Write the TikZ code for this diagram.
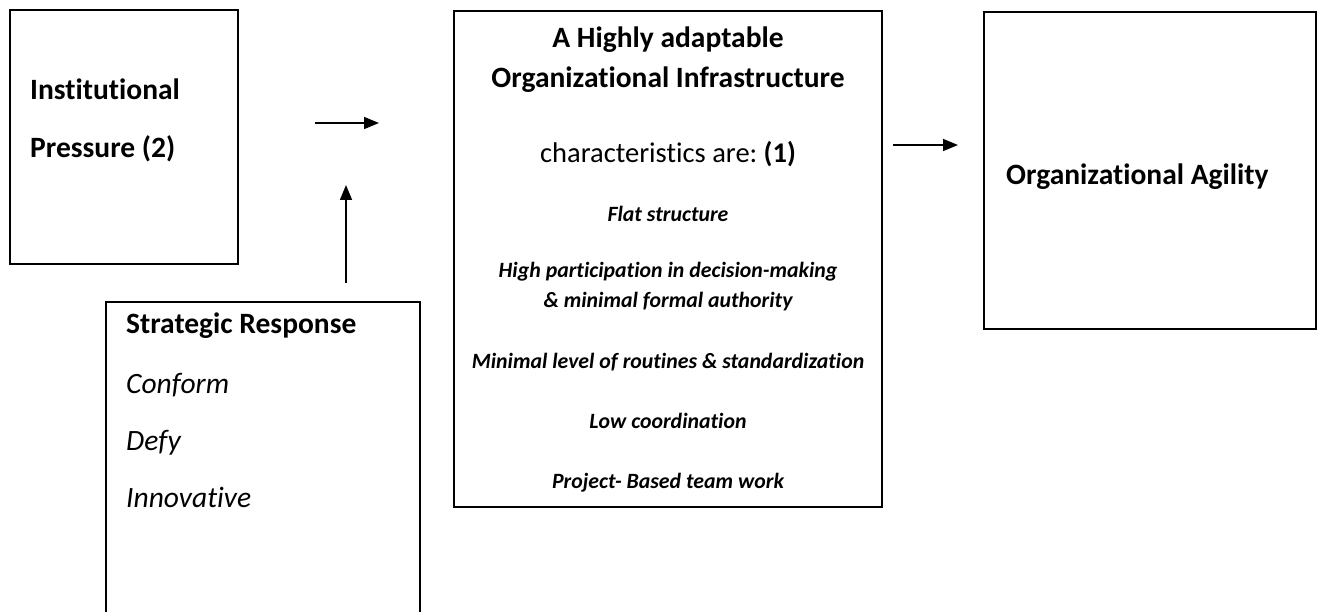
\documentclass[tikz,border=0pt]{standalone}
\usepackage{fontspec}
\setmainfont[Ligatures={NoCommon}]{Carlito}
\usetikzlibrary{arrows.meta}
\frenchspacing
\begin{document}
\begin{tikzpicture}[x=1pt,y=-1pt,
  box/.style={draw,line width=1.6pt,inner sep=0pt},
  head/.style={font=\fontsize{29.5}{34}\selectfont\bfseries,anchor=base west,inner sep=0pt},
  centred/.style={anchor=base,inner sep=0pt},
  item/.style={font=\fontsize{21.8}{25}\selectfont\bfseries\itshape,anchor=base,inner sep=0pt},
  option/.style={font=\fontsize{29.5}{34}\selectfont\itshape,anchor=base west,inner sep=0pt},
  flow/.style={line width=1.5pt,-{Triangle[length=15pt,width=12pt]}}]
\useasboundingbox (0,0) rectangle (1322,612);
\clip (0,0) rectangle (1322,612);

% boxes
\node[box,minimum width=228pt,minimum height=254pt] (inst) at (124,137) {};
\node[box,minimum width=314pt,minimum height=330pt] (resp) at (263,467) {};
\node[box,minimum width=428pt,minimum height=496pt] (infra) at (668,259) {};
\node[box,minimum width=332pt,minimum height=317pt] (agil) at (1150,170.5) {};

% institutional pressure
\node[head] (instA) at (30,100) {Institutional};
\node[head] (instB) at (30,158) {Pressure (2)};

% strategic response
\node[head] (respT) at (126,333) {Strategic Response};
\node[option] (opt1) at (126,393) {Conform};
\node[option] (opt2) at (126,450) {Defy};
\node[option] (opt3) at (126,507) {Innovative};

% infrastructure
\node[centred,font=\fontsize{29.5}{34}\selectfont\bfseries] (infA) at (668,48) {A Highly adaptable};
\node[centred,font=\fontsize{29.5}{34}\selectfont\bfseries] (infB) at (668,88) {Organizational Infrastructure};
\node[centred,font=\fontsize{28.5}{33}\selectfont] (infC) at (668,163) {characteristics are: \textbf{(1)}};
\node[item] (it1) at (668,222) {Flat structure};
\node[item] (it2) at (668,277) {High participation in decision-making};
\node[item] (it3) at (668,307) {\& minimal formal authority};
\node[item] (it4) at (668,368) {Minimal level of routines \& standardization};
\node[item] (it5) at (668,428) {Low coordination};
\node[item] (it6) at (668,488) {Project- Based team work};

% agility
\node[head] (agl) at (1006,185) {Organizational Agility};

% connectors
\coordinate (a1s) at (315,123);
\coordinate (a1e) at (379,123);
\coordinate (a2s) at (346,283);
\coordinate (a2e) at (346,185);
\coordinate (a3s) at (893,145);
\coordinate (a3e) at (958,145);
\draw[flow] (a1s) -- (a1e);
\draw[flow] (a2s) -- (a2e);
\draw[flow] (a3s) -- (a3e);
\end{tikzpicture}
\end{document}
